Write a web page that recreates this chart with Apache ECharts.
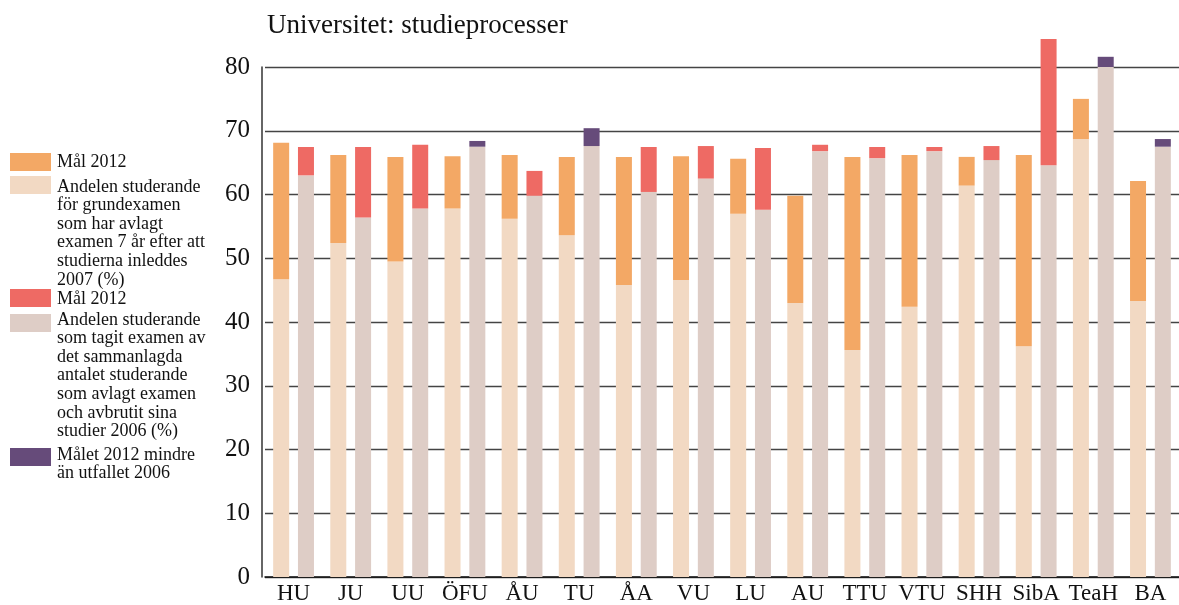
<!DOCTYPE html>
<html lang="sv">
<head>
    <meta charset="UTF-8">
    <title>Universitet: studieprocesser</title>
    <script src="https://cdn.jsdelivr.net/npm/echarts@6/dist/echarts.min.js"></script>
</head>
<body style="margin: 0; background: #fff;">
<div id="container" style="width: 1179px; height: 605px;"></div>
<script type="text/javascript">
    // universitet
    let categories = ['HU', 'JU', 'UU', 'ÖFU', 'ÅU', 'TU', 'ÅA', 'VU', 'LU', 'AU', 'TTU', 'VTU', 'SHH', 'SibA', 'TeaH', 'BA'];

    // andel grundexamen 7 år efter studiestart 2007 (%)
    let grundexamen2007 = [46.7, 52.4, 49.5, 57.8, 56.2, 53.6, 45.8, 46.6, 57.0, 43.0, 35.6, 42.4, 61.4, 36.2, 68.7, 43.3];
    // mål 2012 för den första stapeln
    let malGrund2012 = [68.1, 66.2, 65.9, 66.0, 66.2, 65.9, 65.9, 66.0, 65.6, 59.8, 65.9, 66.2, 65.9, 66.2, 75.0, 62.1];

    // andel som tagit examen av examinerade + avbrutna 2006 (%)
    let examen2006 = [63.0, 56.4, 57.8, 67.5, 59.8, 67.6, 60.4, 62.5, 57.6, 66.8, 65.7, 66.8, 65.4, 64.6, 80.0, 67.5];
    // mål 2012 (röd) där målet är högre än utfallet
    let malExamen2012 = [67.45, 67.45, 67.8, null, 63.7, null, 67.45, 67.6, 67.3, 67.8, 67.45, 67.45, 67.6, 84.4, null, null];
    // lila topp där målet 2012 är mindre än utfallet 2006
    let malMindre2012 = [null, null, null, 68.4, null, 70.4, null, null, null, null, null, null, null, null, 81.6, 68.7];

    let yTicks = [0, 10, 20, 30, 40, 50, 60, 70, 80];

    function diff(tops, bases) {
        return tops.map(function (v, i) {
            return v == null ? null : +(v - bases[i]).toFixed(2);
        });
    }

    let colors = {
        peach: '#F2D9C3',
        orange: '#F3A865',
        red: '#EE6A64',
        grey: '#DECDC6',
        purple: '#664B7A'
    };

    let font = '"Liberation Serif", "DejaVu Serif", serif';

    let legendItems = [
        {color: colors.orange, y: 153, ty: 152.5, text: 'Mål 2012'},
        {color: colors.peach, y: 176, ty: 177.5, text: 'Andelen studerande\nför grundexamen\nsom har avlagt\nexamen 7 år efter att\nstudierna inleddes\n2007 (%)'},
        {color: colors.red, y: 289, ty: 289.5, text: 'Mål 2012'},
        {color: colors.grey, y: 314, ty: 310.5, text: 'Andelen studerande\nsom tagit examen av\ndet sammanlagda\nantalet studerande\nsom avlagt examen\noch avbrutit sina\nstudier 2006 (%)'},
        {color: colors.purple, y: 448, ty: 445.5, text: 'Målet 2012 mindre\nän utfallet 2006'}
    ];

    let graphics = [];
    legendItems.forEach(function (it) {
        graphics.push({
            type: 'rect', left: 10, top: it.y,
            shape: {width: 41, height: 18},
            style: {fill: it.color}
        });
        graphics.push({
            type: 'text', left: 57, top: it.ty,
            style: {
                text: it.text, fill: '#111', font: '18px ' + font,
                lineHeight: 18.6, textVerticalAlign: 'top'
            }
        });
    });

    let chart = {
        paint: function () {
            let dom = document.getElementById('container');
            let myChart = echarts.init(dom, null, {renderer: 'canvas'});

            let option = {
                animation: false,
                title: {
                    text: 'Universitet: studieprocesser',
                    left: 262, top: 7,
                    textStyle: {fontFamily: font, fontSize: 27, fontWeight: 'normal', color: '#111'}
                },
                grid: {left: 265, top: 67, width: 917, bottom: 28, containLabel: false},
                xAxis: {
                    type: 'category',
                    data: categories,
                    axisLine: {lineStyle: {color: '#111', width: 1.5}},
                    axisTick: {show: false},
                    axisLabel: {
                        interval: 0, margin: 5, color: '#111',
                        fontFamily: font, fontSize: 23
                    }
                },
                yAxis: {
                    type: 'value',
                    min: yTicks[0], max: yTicks[yTicks.length - 1], interval: 10,
                    offset: 3,
                    axisLine: {show: true, lineStyle: {color: '#333', width: 1.5}},
                    axisTick: {show: false},
                    axisLabel: {margin: 12, color: '#111', fontFamily: font, fontSize: 25},
                    splitLine: {show: true, lineStyle: {color: '#444', width: 1.3}}
                },
                graphic: graphics,
                series: [{
                    type: 'bar', stack: 'a', name: 'grund2007',
                    barWidth: 16, barGap: '55%', clip: false,
                    itemStyle: {color: colors.peach},
                    data: grundexamen2007
                }, {
                    type: 'bar', stack: 'a', name: 'mal2012a',
                    barWidth: 16, clip: false,
                    itemStyle: {color: colors.orange},
                    data: diff(malGrund2012, grundexamen2007)
                }, {
                    type: 'bar', stack: 'b', name: 'examen2006',
                    barWidth: 16, clip: false,
                    itemStyle: {color: colors.grey},
                    data: examen2006
                }, {
                    type: 'bar', stack: 'b', name: 'mal2012b',
                    barWidth: 16, clip: false,
                    itemStyle: {color: colors.red},
                    data: diff(malExamen2012, examen2006)
                }, {
                    type: 'bar', stack: 'b', name: 'malMindre',
                    barWidth: 16, clip: false,
                    itemStyle: {color: colors.purple},
                    data: diff(malMindre2012, examen2006)
                }]
            };
            myChart.setOption(option, true);
        }
    };

    chart.paint();
</script>
</body>
</html>
